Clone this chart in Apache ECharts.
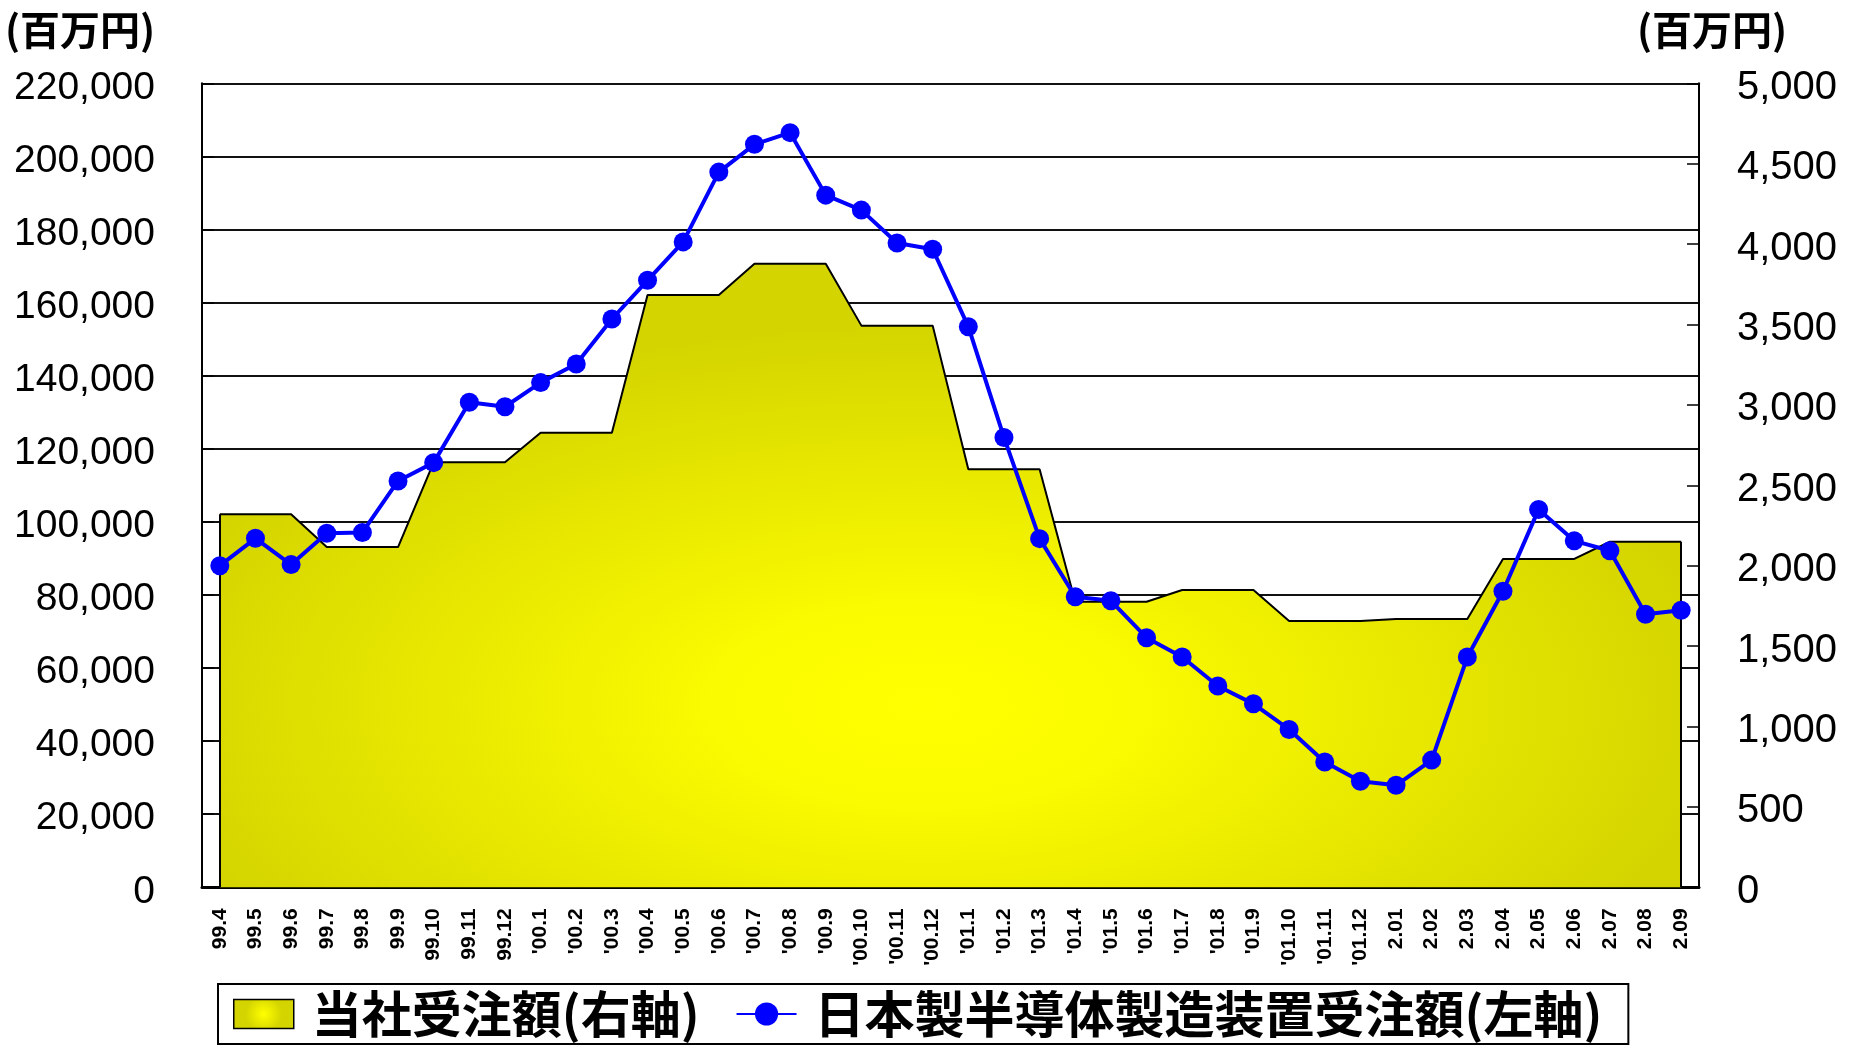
<!DOCTYPE html>
<html>
<head>
<meta charset="utf-8">
<script src="https://cdn.jsdelivr.net/npm/echarts@6/dist/echarts.min.js"></script>
<style>
html,body{margin:0;padding:0;background:#fff;}
#chart{width:1857px;height:1054px;}
</style>
</head>
<body>
<div id="chart"></div>
<script>
// ---- data ----
const months = ['99.4','99.5','99.6','99.7','99.8','99.9','99.10','99.11','99.12',
  "'00.1","'00.2","'00.3","'00.4","'00.5","'00.6","'00.7","'00.8","'00.9","'00.10","'00.11","'00.12",
  "'01.1","'01.2","'01.3","'01.4","'01.5","'01.6","'01.7","'01.8","'01.9","'01.10","'01.11","'01.12",
  '2.01','2.02','2.03','2.04','2.05','2.06','2.07','2.08','2.09'];
// 当社受注額 (右軸, 百万円)
const companyOrders = [2320,2320,2320, 2116,2116,2116, 2643,2643,2643,
  2827,2827,2827, 3684,3684,3684, 3878,3878,3878, 3493,3493,3493,
  2600,2600,2600, 1776,1776,1776, 1849,1849,1849, 1656,1656,1656,
  1669,1669,1669, 2042,2042,2042, 2149,2149,2149];
// 日本製半導体製造装置受注額 (左軸, 百万円)
const industryOrders = [88000,95500,88300,96900,97100,111200,116200,132700,131500,
  138100,143200,155500,166100,176600,195700,203300,206500,189400,185300,176300,174600,
  153400,123100,95400,79500,78400,68300,63000,55100,50200,43200,34300,29000,
  27900,34800,63000,81000,103400,94800,92100,74700,75800];
const leftTicks = {min:0, max:220000, interval:20000};
const rightTicks = {min:0, max:5000, interval:500};
const seriesNames = ['当社受注額(右軸)', '日本製半導体製造装置受注額(左軸)'];
const unitLabel = '(百万円)';

// ---- elliptical gradient fill pattern ----
const W = 1857, H = 1054;
const pc = document.createElement('canvas');
pc.width = W; pc.height = H;
(function(){
  const ctx = pc.getContext('2d');
  const cx = 925, cy = 705, rx = 800, ry = 380;
  ctx.fillStyle = '#d4d400';
  ctx.fillRect(0,0,W,H);
  ctx.save();
  ctx.translate(cx, cy);
  ctx.scale(rx/ry, 1);
  const g = ctx.createRadialGradient(0,0,0,0,0,ry);
  g.addColorStop(0, '#ffff00');
  g.addColorStop(0.25, '#fbfb00');
  g.addColorStop(1, '#d4d400');
  ctx.fillStyle = g;
  ctx.fillRect(-W, -H, 2*W, 2*H);
  ctx.restore();
})();

const fmt = v => Number(v).toLocaleString('en-US');
const numFont = '"Liberation Sans", Arial, sans-serif';
const cjkFont = '"Noto Sans CJK JP", sans-serif';

const chart = echarts.init(document.getElementById('chart'), null, {renderer:'canvas'});
chart.setOption({
  animation: false,
  backgroundColor: '#fff',
  grid: {left: 202, right: 158, top: 83.3, bottom: 166.7, containLabel: false, outerBoundsMode: 'none'},
  legend: {
    left: 218, top: 984,
    padding: [5, 26, 5, 15],
    borderColor: '#000', borderWidth: 2,
    itemWidth: 60, itemHeight: 29, itemGap: 36,
    textStyle: {fontSize: 50, fontWeight: 'bold', fontFamily: cjkFont, color: '#000', padding: [0,0,0,13]},
    data: [
      {name: seriesNames[0], icon: 'rect',
       itemStyle: {color: {type:'radial', x:0.5, y:0.5, r:0.6,
         colorStops:[{offset:0,color:'#ffff00'},{offset:1,color:'#d4d400'}]},
         borderColor:'#000', borderWidth:1.5}},
      {name: seriesNames[1]}
    ]
  },
  graphic: [
    {type:'text', left: 5, top: 10, style:{text: unitLabel, font: 'bold 40px "Noto Sans CJK JP"', fill:'#000'}},
    {type:'text', left: 1637, top: 10, style:{text: unitLabel, font: 'bold 40px "Noto Sans CJK JP"', fill:'#000'}}
  ],
  xAxis: {
    type: 'category', data: months, boundaryGap: true,
    axisLine: {show: true, lineStyle: {color:'#000', width: 3}},
    axisTick: {show: true, inside: true, length: 7, interval: 0, alignWithLabel: false, lineStyle:{color:'#000', width: 1.5}},
    axisLabel: {interval: 0, rotate: 90, margin: 21, fontSize: 21, fontWeight: 'bold', fontFamily: numFont, color:'#000'},
    splitLine: {show: false}
  },
  yAxis: [
    {type:'value', position:'left', min: leftTicks.min, max: leftTicks.max, interval: leftTicks.interval,
     axisLine: {show: true, lineStyle: {color:'#000', width: 2}},
     axisTick: {show: true, inside: true, length: 12, lineStyle:{color:'#000', width: 1.5}},
     axisLabel: {margin: 47, fontSize: 39, fontFamily: numFont, color:'#000', formatter: fmt,
                 verticalAlign: 'top', lineHeight: 9},
     splitLine: {show: true, lineStyle: {color:'#111', width: 1.8}}
    },
    {type:'value', position:'right', min: rightTicks.min, max: rightTicks.max, interval: rightTicks.interval,
     axisLine: {show: true, lineStyle: {color:'#000', width: 2}},
     axisTick: {show: true, inside: true, length: 12, lineStyle:{color:'#000', width: 1.5}},
     axisLabel: {margin: 38, fontSize: 40, fontFamily: numFont, color:'#000', formatter: fmt,
                 verticalAlign: 'top', lineHeight: 9},
     splitLine: {show: false}
    }
  ],
  series: [
    {
      name: seriesNames[0], type: 'line', yAxisIndex: 1, data: companyOrders,
      symbol: 'none', z: 2,
      itemStyle: {color: '#e0e000'},
      lineStyle: {color: '#000', width: 2},
      areaStyle: {color: {image: pc, repeat: 'no-repeat'}, opacity: 1},
      markLine: {
        silent: true, symbol: ['none','none'], animation: false,
        label: {show: false},
        lineStyle: {color:'#000', width: 2, type:'solid'},
        data: [
          [{coord:[months[0], 0]}, {coord:[months[0], companyOrders[0]]}],
          [{coord:[months[months.length-1], 0]}, {coord:[months[months.length-1], companyOrders[companyOrders.length-1]]}]
        ]
      }
    },
    {
      name: seriesNames[1], type: 'line', yAxisIndex: 0, data: industryOrders,
      symbol: 'circle', symbolSize: 19, z: 5,
      itemStyle: {color: '#0000ff'},
      lineStyle: {color: '#0000ff', width: 4}
    }
  ]
});
</script>
</body>
</html>
